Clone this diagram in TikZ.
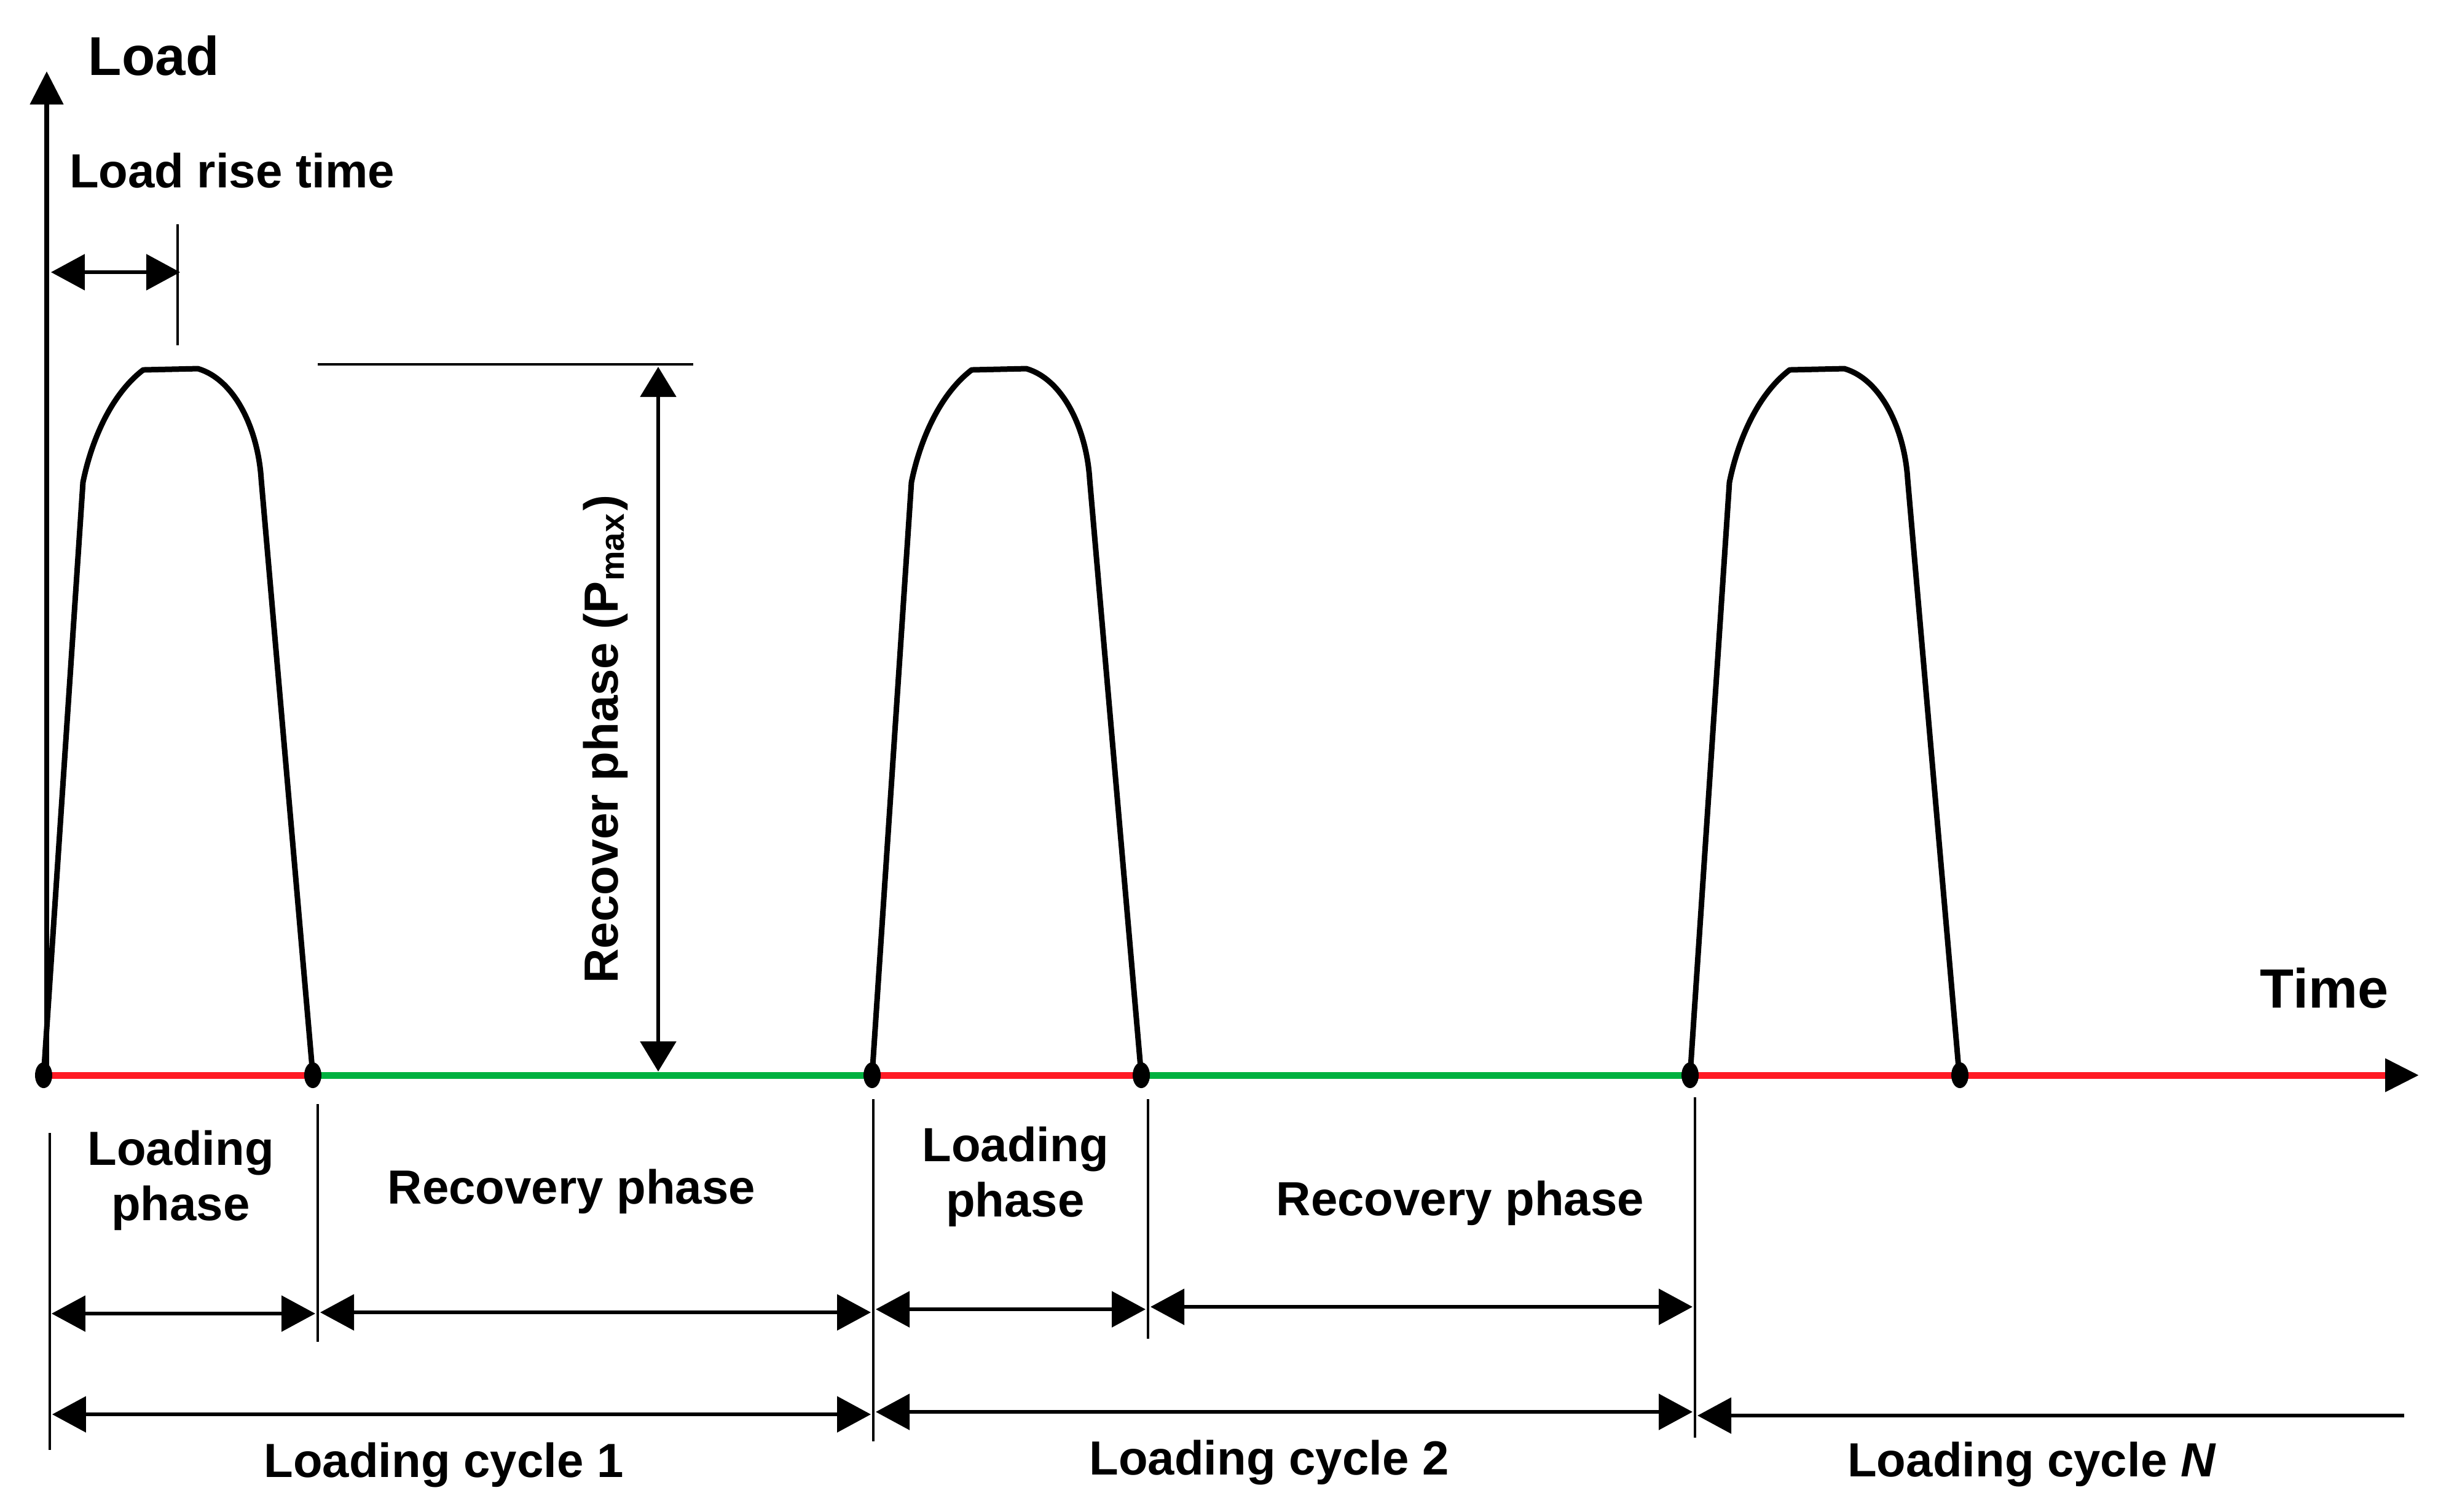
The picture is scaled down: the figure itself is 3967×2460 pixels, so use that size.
\documentclass[tikz,border=0pt]{standalone}
\usepackage{fontspec}
\setmainfont{Liberation Sans}
\usetikzlibrary{arrows.meta,shapes.geometric}
\definecolor{cred}{HTML}{FF1A25}
\definecolor{cgreen}{HTML}{00B140}
\begin{document}
\begin{tikzpicture}[x=0.1pt,y=-0.1pt,
  lbl/.style={font=\bfseries\fontsize{7.8}{9}\selectfont, inner sep=0, anchor=base},
  pulse/.style={line width=0.9pt, line join=round},
  dim/.style={line width=0.55pt, {Triangle[length=5.5pt,width=5.8pt]}-{Triangle[length=5.5pt,width=5.8pt]}},
  dimleft/.style={line width=0.55pt, {Triangle[length=5.5pt,width=5.8pt]}-},
  tickline/.style={line width=0.4pt},
  dot/.style={ellipse, fill=black, minimum width=2.8pt, minimum height=4.2pt, inner sep=0},
  base/.style={line width=1.1pt}
]
\useasboundingbox (0,0) rectangle (3967,2460);

% key points on the time axis
\coordinate (p1s) at (71,1750);
\coordinate (p1e) at (509,1750);
\coordinate (p2s) at (1419,1750);
\coordinate (p2e) at (1857,1750);
\coordinate (p3s) at (2750,1750);
\coordinate (p3e) at (3189,1750);
\coordinate (tend) at (3936,1750);
\coordinate (tarr) at (3881,1750);
\coordinate (yb) at (76,1750);
\coordinate (ytop) at (76,116);

% axes
\draw[line width=0.8pt, -{Triangle[length=5.4pt,width=5.3pt]}] (yb) -- (ytop);
\draw[base, -{Triangle[length=5.5pt,width=5.2pt]}] (p1s) -- (tend);

% coloured phases
\draw[base, cred] (p1s) -- (p1e);
\draw[base, cgreen] (p1e) -- (p2s);
\draw[base, cred] (p2s) -- (p2e);
\draw[base, cgreen] (p2e) -- (p3s);
\draw[base, cred] (p3s) -- (tarr);

% pulses
\foreach \s in {p1s,p2s,p3s}{
  \draw[pulse, shift={(\s)}] (0,0) -- (64,-965)
     .. controls (76,-1025) and (106,-1105) .. (162,-1148)
     -- (251,-1150)
     .. controls (312,-1132) and (349,-1050) .. (354,-970)
     -- (438,0);
}

% junction dots
\node[dot] (d1) at (p1s) {};
\node[dot] (d2) at (p1e) {};
\node[dot] (d3) at (p2s) {};
\node[dot] (d4) at (p2e) {};
\node[dot] (d5) at (p3s) {};
\node[dot] (d6) at (p3e) {};

% axis labels
\node[lbl, anchor=base west, font=\bfseries\fontsize{8.9}{10}\selectfont] (load) at (142,122) {Load};
\node[lbl, anchor=base east, font=\bfseries\fontsize{9}{10}\selectfont] (time) at (3888,1640) {Time};

% load rise time
\node[lbl, anchor=base west] (rise) at (111,305) {Load rise time};
\coordinate (rt) at (289,365);
\coordinate (rb) at (289,562);
\draw[tickline] (rt) -- (rb);
\coordinate (ra1) at (83,443);
\coordinate (ra2) at (293,443);
\draw[dim] (ra1) -- (ra2);

% Pmax
\coordinate (pm1) at (517,593);
\coordinate (pm2) at (1128,593);
\draw[tickline] (pm1) -- (pm2);
\coordinate (pa1) at (1071,597);
\coordinate (pa2) at (1071,1744);
\draw[line width=0.55pt, {Triangle[length=4.9pt,width=5.8pt]}-{Triangle[length=4.9pt,width=5.8pt]}] (pa1) -- (pa2);
\node[lbl, rotate=90] (rec) at (1005,1203) {Recover phase (P\textsubscript{max})};

% vertical extension lines
\coordinate (v1a) at (81,1844);   \coordinate (v1b) at (81,2360);
\coordinate (v2a) at (517,1797);  \coordinate (v2b) at (517,2184);
\coordinate (v3a) at (1421,1789); \coordinate (v3b) at (1421,2346);
\coordinate (v4a) at (1868,1789); \coordinate (v4b) at (1868,2179);
\coordinate (v5a) at (2758,1786); \coordinate (v5b) at (2758,2340);
\foreach \v in {1,...,5}{\draw[tickline] (v\v a) -- (v\v b);}

% phase dimension arrows
\coordinate (a1l) at (84,2138);   \coordinate (a1r) at (513,2138);
\coordinate (a2l) at (521,2136);  \coordinate (a2r) at (1417,2136);
\coordinate (a3l) at (1425,2131); \coordinate (a3r) at (1864,2131);
\coordinate (a4l) at (1872,2127); \coordinate (a4r) at (2754,2127);
\foreach \a in {1,...,4}{\draw[dim] (a\a l) -- (a\a r);}

% cycle dimension arrows
\coordinate (c1l) at (85,2302);   \coordinate (c1r) at (1417,2302);
\coordinate (c2l) at (1425,2298); \coordinate (c2r) at (2754,2298);
\coordinate (c3l) at (2762,2304); \coordinate (c3r) at (3912,2304);
\draw[dim] (c1l) -- (c1r);
\draw[dim] (c2l) -- (c2r);
\draw[dimleft] (c3l) -- (c3r);

% phase labels
\node[lbl] (lp1a) at (294,1896) {Loading};
\node[lbl] (lp1b) at (294,1986) {phase};
\node[lbl] (rp1) at (930,1959) {Recovery phase};
\node[lbl] (lp2a) at (1652,1890) {Loading};
\node[lbl] (lp2b) at (1652,1980) {phase};
\node[lbl] (rp2) at (2376,1978) {Recovery phase};

% cycle labels
\node[lbl] (lc1) at (722,2404) {Loading cycle 1};
\node[lbl] (lc2) at (2065,2400) {Loading cycle 2};
\node[lbl] (lcn) at (3306,2403) {Loading cycle \textit{N}};
\end{tikzpicture}
\end{document}
